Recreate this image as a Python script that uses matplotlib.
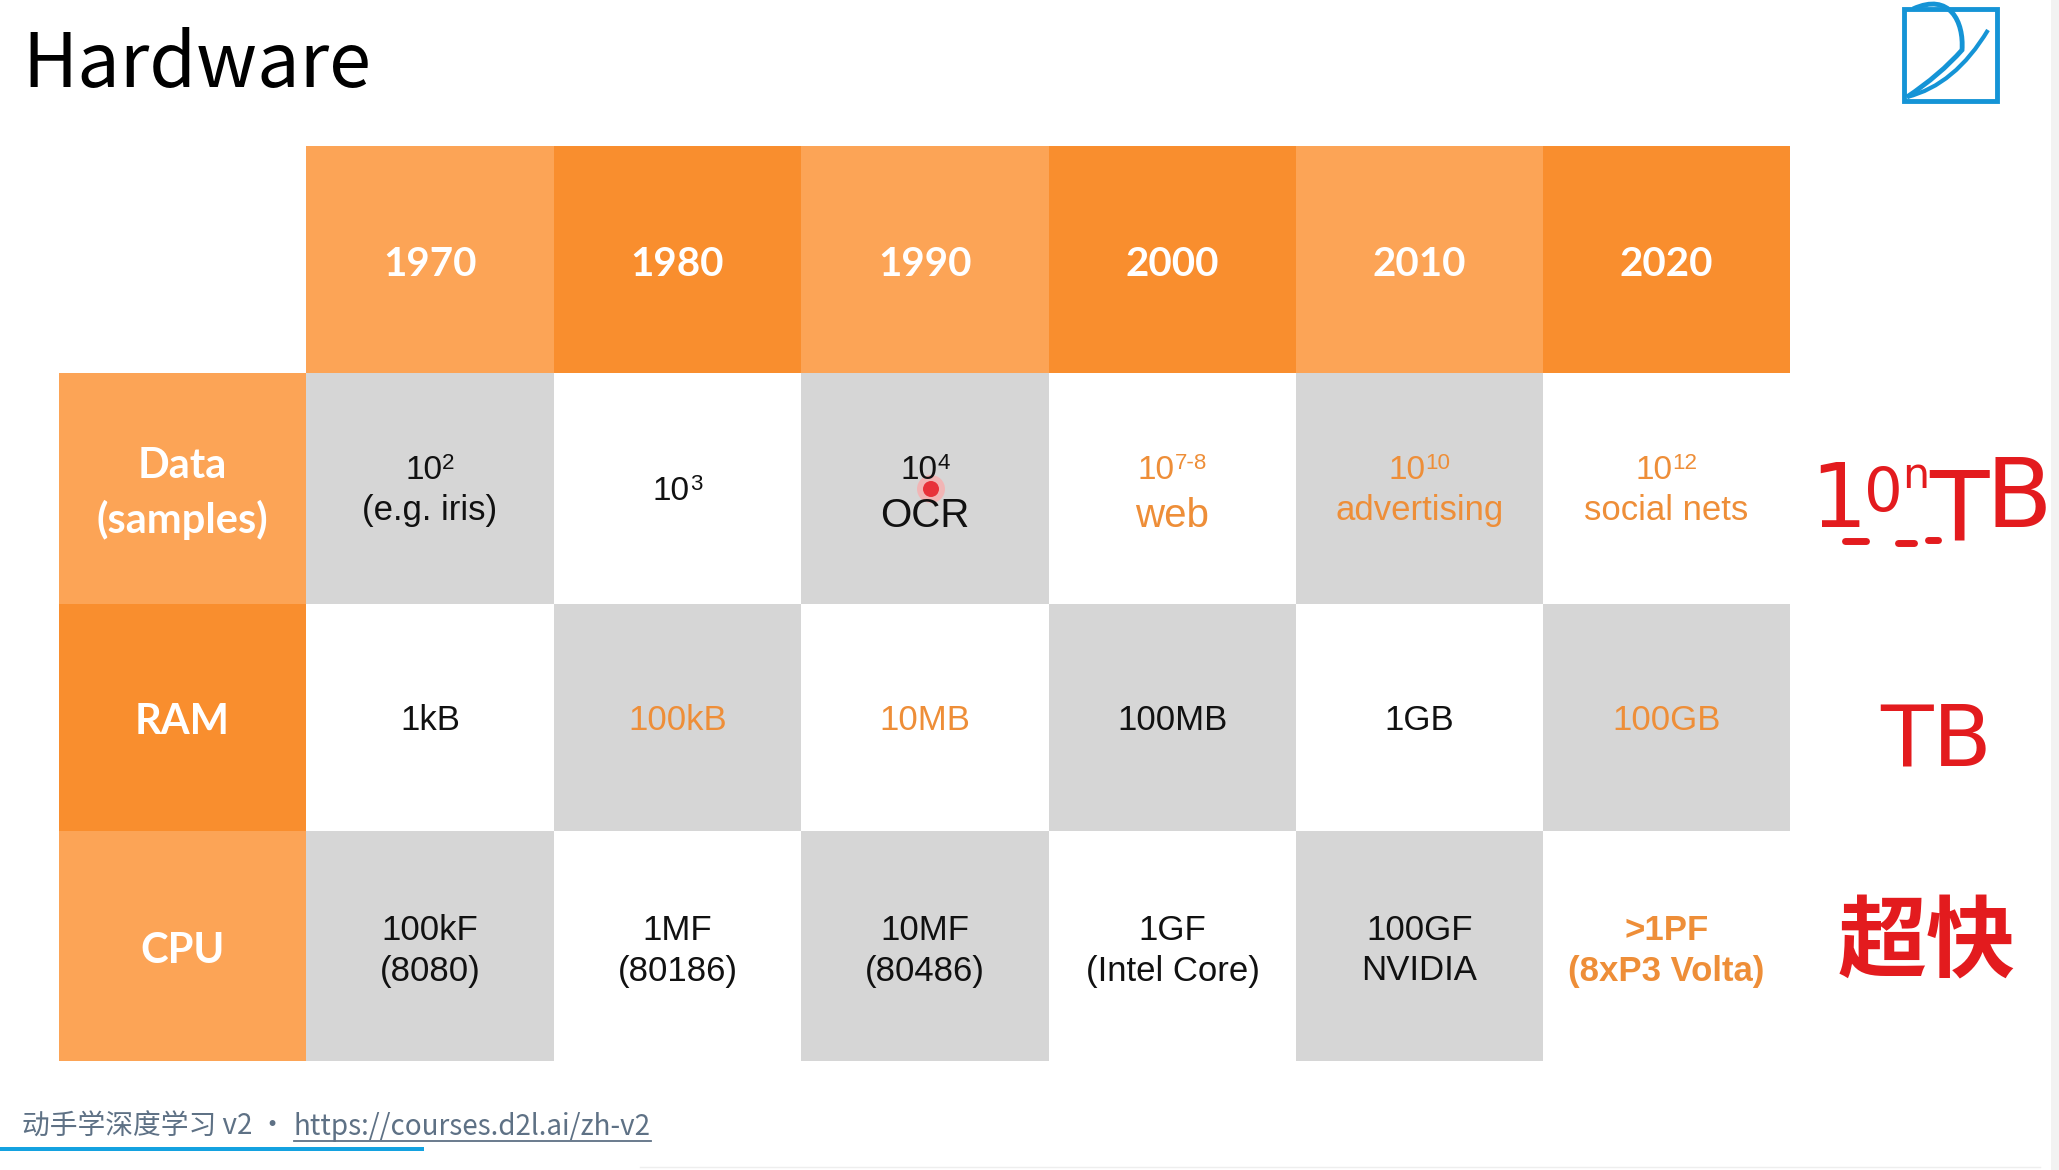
import matplotlib
matplotlib.use("Agg")
import matplotlib.pyplot as plt
from matplotlib.patches import Rectangle, Circle, PathPatch
from matplotlib.path import Path

# ---------------- data ----------------
years = ['1970', '1980', '1990', '2000', '2010', '2020']
row_labels = ['Data\n(samples)', 'RAM', 'CPU']
data_base = ['10', '10', '10', '10', '10', '10']
data_exp = ['2', '3', '4', '7-8', '10', '12']
data_bottom = ['(e.g. iris)', '', 'OCR', 'web', 'advertising', 'social nets']
ram_vals = ['1kB', '100kB', '10MB', '100MB', '1GB', '100GB']
cpu_top = ['100kF', '1MF', '10MF', '1GF', '100GF', '>1PF']
cpu_bottom = ['(8080)', '(80186)', '(80486)', '(Intel Core)', 'NVIDIA', '(8xP3 Volta)']
data_orange = [False, False, False, True, True, True]
ram_orange = [False, True, True, False, False, True]
cpu_orange = [False, False, False, False, False, True]

title = 'Hardware'
footer_left = '动手学深度学习 v2 •'
footer_link = 'https://courses.d2l.ai/zh-v2'

# ---------------- styles ----------------
LIGHT_OR = '#FCA456'
DARK_OR = '#F98E2E'
GREY = '#D6D6D6'
WHITE = '#FFFFFF'
TXT = '#111111'
OR_TXT = '#EE8E38'
RED = '#E31B1E'

W, H = 2059, 1170
fig = plt.figure(figsize=(W / 100, H / 100), dpi=100)
ax = fig.add_axes([0, 0, 1, 1])
ax.set_xlim(0, W)
ax.set_ylim(H, 0)
ax.axis('off')
fig.canvas.draw()
renderer = fig.canvas.get_renderer()
inv = ax.transData.inverted()


def text_width(t):
    bb = t.get_window_extent(renderer)
    return inv.transform((bb.x1, 0))[0] - inv.transform((bb.x0, 0))[0]


col_edges = [59, 306, 554, 801, 1049, 1296, 1543, 1790]
row_edges = [146, 373, 604, 831, 1061]

HEAD_FONT = 'Lato'
CELL_FONT = 'Liberation Sans'
DY = 3

# header row
for i, y in enumerate(years):
    x0, x1 = col_edges[i + 1], col_edges[i + 2]
    c = LIGHT_OR if i % 2 == 0 else DARK_OR
    ax.add_patch(Rectangle((x0, row_edges[0]), x1 - x0, row_edges[1] - row_edges[0],
                           facecolor=c, edgecolor='none'))
    ax.text((x0 + x1) / 2, 262 + DY, y, ha='center', va='center', color='white',
            fontsize=29, fontfamily=HEAD_FONT, fontweight='bold')

# row labels
label_colors = [LIGHT_OR, DARK_OR, LIGHT_OR]
for r, lab in enumerate(row_labels):
    y0, y1 = row_edges[r + 1], row_edges[r + 2]
    ax.add_patch(Rectangle((col_edges[0], y0), col_edges[1] - col_edges[0], y1 - y0,
                           facecolor=label_colors[r], edgecolor='none'))
    ax.text((col_edges[0] + col_edges[1]) / 2, (y0 + y1) / 2 + 2 + DY, lab, ha='center',
            va='center', color='white', fontsize=30, fontfamily=HEAD_FONT,
            fontweight='bold', linespacing=1.45)

# body cells (checkerboard)
for r in range(3):
    y0, y1 = row_edges[r + 1], row_edges[r + 2]
    for i in range(6):
        x0, x1 = col_edges[i + 1], col_edges[i + 2]
        grey = ((i + r) % 2 == 0)
        ax.add_patch(Rectangle((x0, y0), x1 - x0, y1 - y0,
                               facecolor=GREY if grey else WHITE, edgecolor='none'))


def cx(i):
    return (col_edges[i + 1] + col_edges[i + 2]) / 2


def power_text(xc, baseline, base, exp, color, size=24):
    tb = ax.text(0, baseline, base, ha='left', va='baseline', color=color,
                 fontsize=size, fontfamily=CELL_FONT)
    te = ax.text(0, baseline - 10, exp, ha='left', va='baseline', color=color,
                 fontsize=size * 0.67, fontfamily=CELL_FONT)
    wb = text_width(tb)
    we = text_width(te)
    x0 = xc - (wb + we) / 2
    tb.set_x(x0)
    te.set_x(x0 + wb)


# Data row
for i in range(6):
    col = OR_TXT if data_orange[i] else TXT
    big = data_bottom[i] in ('OCR', 'web')
    if data_bottom[i] == '':
        power_text(cx(i), 500, data_base[i], data_exp[i], col)
    else:
        power_text(cx(i), 479, data_base[i], data_exp[i], col)
        ax.text(cx(i), 527 if big else 520, data_bottom[i], ha='center', va='baseline',
                color=col, fontsize=29 if big else 25, fontfamily=CELL_FONT)

# RAM row
for i in range(6):
    col = OR_TXT if ram_orange[i] else TXT
    ax.text(cx(i), 718 + DY, ram_vals[i], ha='center', va='center', color=col,
            fontsize=25, fontfamily=CELL_FONT)

# CPU row
for i in range(6):
    col = OR_TXT if cpu_orange[i] else TXT
    wt = 'bold' if cpu_orange[i] else 'normal'
    ax.text(cx(i), 927 + DY, cpu_top[i], ha='center', va='center', color=col,
            fontsize=25, fontfamily=CELL_FONT, fontweight=wt)
    ax.text(cx(i), 968 + DY, cpu_bottom[i], ha='center', va='center', color=col,
            fontsize=25, fontfamily=CELL_FONT, fontweight=wt)

# title
ax.text(22, 87, title, ha='left', va='baseline', color='black', fontsize=54.5,
        fontfamily='Noto Sans CJK SC', fontweight='medium')

# footer
FOOT = '#5E7185'
t1 = ax.text(22, 1135, footer_left, ha='left', va='baseline', color=FOOT, fontsize=20,
             fontfamily=['Noto Sans CJK SC', 'DejaVu Sans'])
x_end = 22 + text_width(t1) + 7
t2 = ax.text(x_end, 1135, footer_link, ha='left', va='baseline', color=FOOT, fontsize=20,
             fontfamily='Noto Sans CJK SC')
lw_link = text_width(t2)
ax.plot([x_end, x_end + lw_link], [1141, 1141], color=FOOT, lw=1.3)
ax.add_patch(Rectangle((0, 1147), 424, 4, facecolor='#14A2E0', edgecolor='none'))
ax.plot([640, 2040], [1167, 1167], color='#EEEEEE', lw=1)

# right edge strip
ax.add_patch(Rectangle((2051, 0), 8, H, facecolor='#F2F2F2', edgecolor='none'))

# logo
LOGO = '#1594D6'
ax.add_patch(Rectangle((1904, 9), 93, 92, facecolor='none', edgecolor=LOGO, lw=3.5))
arc = Path([(1913, 9), (1950, -8), (1964, 22), (1962, 50), (1940, 75), (1907, 97)],
           [Path.MOVETO, Path.CURVE4, Path.CURVE4, Path.CURVE4, Path.CURVE3, Path.CURVE3])
ax.add_patch(PathPatch(arc, facecolor='none', edgecolor=LOGO, lw=3.5))
base = Path([(1907, 97), (1955, 85), (1988, 30)],
            [Path.MOVETO, Path.CURVE3, Path.CURVE3])
ax.add_patch(PathPatch(base, facecolor='none', edgecolor=LOGO, lw=3))

# red pointer dot
ax.add_patch(Circle((931, 489), 14, facecolor='#F7B0B0', edgecolor='none', alpha=0.85))
ax.add_patch(Circle((931, 489), 8, facecolor='#E8323A', edgecolor='none'))

# handwritten annotations (laid out one after another, no overlap)
HW = dict(color=RED, fontfamily='DejaVu Sans', va='baseline', ha='left')
x = 1810
ta = ax.text(x, 527, '1', fontsize=64, **HW)
x += text_width(ta) - 4
tb = ax.text(x, 512, r'$0^{\mathrm{n}}$', fontsize=44, **HW)
x += text_width(tb) + 2
tc = ax.text(x, 540, 'T', fontsize=70, **HW)
x += text_width(tc) - 4
ax.text(x, 527, 'B', fontsize=70, **HW)
ax.plot([1845, 1866], [541, 541], color=RED, lw=5, solid_capstyle='round')
ax.plot([1898, 1914], [543, 543], color=RED, lw=5, solid_capstyle='round')
ax.plot([1928, 1938], [540, 540], color=RED, lw=5, solid_capstyle='round')
ax.text(1936, 766, 'TB', ha='center', va='baseline', color=RED, fontsize=62,
        fontfamily='DejaVu Sans')
ax.text(1838, 944, '超快', ha='left', va='center', color=RED, fontsize=64,
        fontfamily='Noto Sans CJK SC', fontweight='bold')

fig.savefig('out.png', dpi=100)
